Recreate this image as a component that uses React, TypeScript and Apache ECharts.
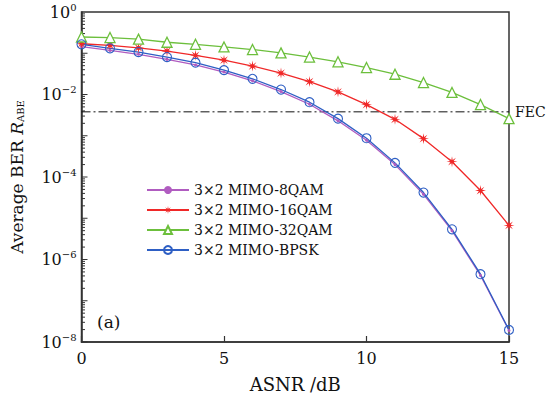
import React, { useEffect, useRef } from "react";
import * as echarts from "echarts";

const snr = [0, 1, 2, 3, 4, 5, 6, 7, 8, 9, 10, 11, 12, 13, 14, 15];
const ber8QAM = [0.145, 0.117, 0.094, 0.071, 0.052, 0.035, 0.0215, 0.0118, 0.0058, 0.0023, 7.8e-4, 2.0e-4, 3.8e-5, 5.0e-6, 4.1e-7, 1.9e-8];
const ber16QAM = [0.17, 0.156, 0.135, 0.112, 0.089, 0.068, 0.049, 0.033, 0.0206, 0.0116, 0.0057, 0.0025, 8.5e-4, 2.35e-4, 4.7e-5, 6.7e-6];
const ber32QAM = [0.248, 0.24, 0.22, 0.185, 0.165, 0.142, 0.123, 0.102, 0.081, 0.062, 0.045, 0.031, 0.0195, 0.0112, 0.0057, 0.0026];
const berBPSK = [0.165, 0.132, 0.107, 0.081, 0.059, 0.039, 0.024, 0.0132, 0.0065, 0.0026, 8.7e-4, 2.2e-4, 4.2e-5, 5.4e-6, 4.4e-7, 1.96e-8];
const seriesNames = ["3×2 MIMO-8QAM", "3×2 MIMO-16QAM", "3×2 MIMO-32QAM", "3×2 MIMO-BPSK"];
const fecLevel = 3.8e-3;
const fecX = [0, 15];
const yExponents = [-8, -7, -6, -5, -4, -3, -2, -1];
const minorMultipliers = [1, 2, 3, 4, 5, 6, 7, 8, 9];

const FONT = "DejaVu Serif";

function starPath(): string {
  const pts: string[] = [];
  for (let k = 0; k < 16; k++) {
    const a = (k * Math.PI) / 8 - Math.PI / 2;
    const r = k % 2 === 0 ? 10 : 3.2;
    pts.push(`${(10 + r * Math.cos(a)).toFixed(2)} ${(10 + r * Math.sin(a)).toFixed(2)}`);
  }
  return "path://M" + pts.join(" L") + " Z";
}

export default function App() {
  const ref = useRef<HTMLDivElement>(null);
  useEffect(() => {
    if (!ref.current) return;
    const chart = echarts.init(ref.current, null, { renderer: "svg" });
    const pair = (ys: number[]) => snr.map((x, i) => [x, ys[i]]);
    const minorData: number[][] = [];
    yExponents.forEach((e) => {
      minorMultipliers.forEach((m) => {
        const v = m * Math.pow(10, e);
        if (v <= 1) minorData.push([0, v, m === 1 ? 1 : 0]);
      });
    });
    const lineBase = {
      type: "line",
      smooth: false,
      showSymbol: true,
      z: 3,
    };
    chart.setOption({
      animation: false,
      textStyle: { fontFamily: FONT, color: "#111" },
      grid: {
        left: 79,
        right: 37,
        top: 12,
        bottom: 55,
        show: true,
        borderColor: "#333",
        borderWidth: 1.5,
        backgroundColor: "transparent",
      },
      legend: {
        orient: "vertical",
        left: 141,
        top: 178,
        itemWidth: 42,
        itemHeight: 10,
        itemGap: 6,
        data: seriesNames,
        textStyle: { fontFamily: FONT, fontSize: 14, color: "#111" },
      },
      xAxis: {
        type: "value",
        min: 0,
        max: 15,
        interval: 5,
        name: "ASNR /dB",
        nameLocation: "middle",
        nameGap: 33,
        nameTextStyle: { fontFamily: FONT, fontSize: 18, color: "#111" },
        axisLine: { show: true, lineStyle: { color: "#333", width: 1.5 } },
        axisTick: { show: true, inside: true, length: 6, lineStyle: { color: "#333", width: 1.2 } },
        axisLabel: { fontFamily: FONT, fontSize: 16, color: "#111", margin: 8 },
        splitLine: { show: false },
      },
      yAxis: {
        type: "log",
        logBase: 10,
        min: 1e-8,
        max: 1,
        interval: 2,
        name: "{n|Average BER }{i|R}{s|ABE}",
        nameLocation: "middle",
        nameGap: 56,
        nameTextStyle: {
          rich: {
            n: { fontFamily: FONT, fontSize: 17, color: "#111" },
            i: { fontFamily: FONT, fontSize: 17, fontStyle: "italic", color: "#111" },
            s: { fontFamily: FONT, fontSize: 10, color: "#111", padding: [8, 0, 0, 0] },
          },
        },
        axisLine: { show: true, lineStyle: { color: "#333", width: 1.5 } },
        axisTick: { show: false },
        axisLabel: {
          margin: 5,
          formatter: (v: number) => {
            const e = Math.round(Math.log10(v));
            return `{b|10}{s|${e < 0 ? "−" + -e : e}}`;
          },
          rich: {
            b: { fontFamily: FONT, fontSize: 16, color: "#111" },
            s: { fontFamily: FONT, fontSize: 10, color: "#111", padding: [0, 0, 10, 0] },
          },
        },
        splitLine: { show: false },
      },
      graphic: [
        {
          type: "text",
          left: 97,
          top: 313,
          style: { text: "(a)", fontFamily: FONT, fontSize: 17, fill: "#111" },
        },
      ],
      series: [
        {
          type: "custom",
          name: "minorTicks",
          data: minorData,
          silent: true,
          z: 2,
          renderItem: (params: any, api: any) => {
            const p = api.coord([0, api.value(1)]);
            const len = api.value(2) === 1 ? 6 : 3.5;
            return {
              type: "line",
              shape: { x1: p[0], y1: p[1], x2: p[0] + len, y2: p[1] },
              style: { stroke: "#333", lineWidth: 1 },
            };
          },
        },
        {
          type: "line",
          name: "FEC",
          data: fecX.map((x) => [x, fecLevel]),
          showSymbol: false,
          symbol: "none",
          silent: true,
          z: 2,
          lineStyle: { color: "#111", width: 1, type: [9, 3, 2, 3] },
          endLabel: {
            show: true,
            formatter: "FEC",
            fontFamily: FONT,
            fontSize: 14,
            color: "#111",
            distance: 6,
          },
        },
        {
          ...lineBase,
          name: seriesNames[0],
          data: pair(ber8QAM),
          symbol: "circle",
          symbolSize: 3,
          itemStyle: { color: "#b05cc0" },
          lineStyle: { color: "#b05cc0", width: 1.3 },
        },
        {
          ...lineBase,
          name: seriesNames[1],
          data: pair(ber16QAM),
          symbol: starPath(),
          symbolSize: 11,
          itemStyle: { color: "#f02828" },
          lineStyle: { color: "#f02828", width: 1.3 },
        },
        {
          ...lineBase,
          name: seriesNames[2],
          data: pair(ber32QAM),
          symbol: "triangle",
          symbolSize: 10,
          itemStyle: { color: "#fff", borderColor: "#6cbf3c", borderWidth: 1.3 },
          lineStyle: { color: "#6cbf3c", width: 1.3 },
        },
        {
          ...lineBase,
          name: seriesNames[3],
          data: pair(berBPSK),
          symbol: "circle",
          symbolSize: 9,
          itemStyle: { color: "rgba(255,255,255,0)", borderColor: "#2e5fc4", borderWidth: 1.1 },
          lineStyle: { color: "#2e5fc4", width: 1.3 },
        },
      ],
    });
    return () => chart.dispose();
  }, []);
  return <div ref={ref} style={{ position: "absolute", left: 0, top: 0, width: 546, height: 398 }} />;
}
